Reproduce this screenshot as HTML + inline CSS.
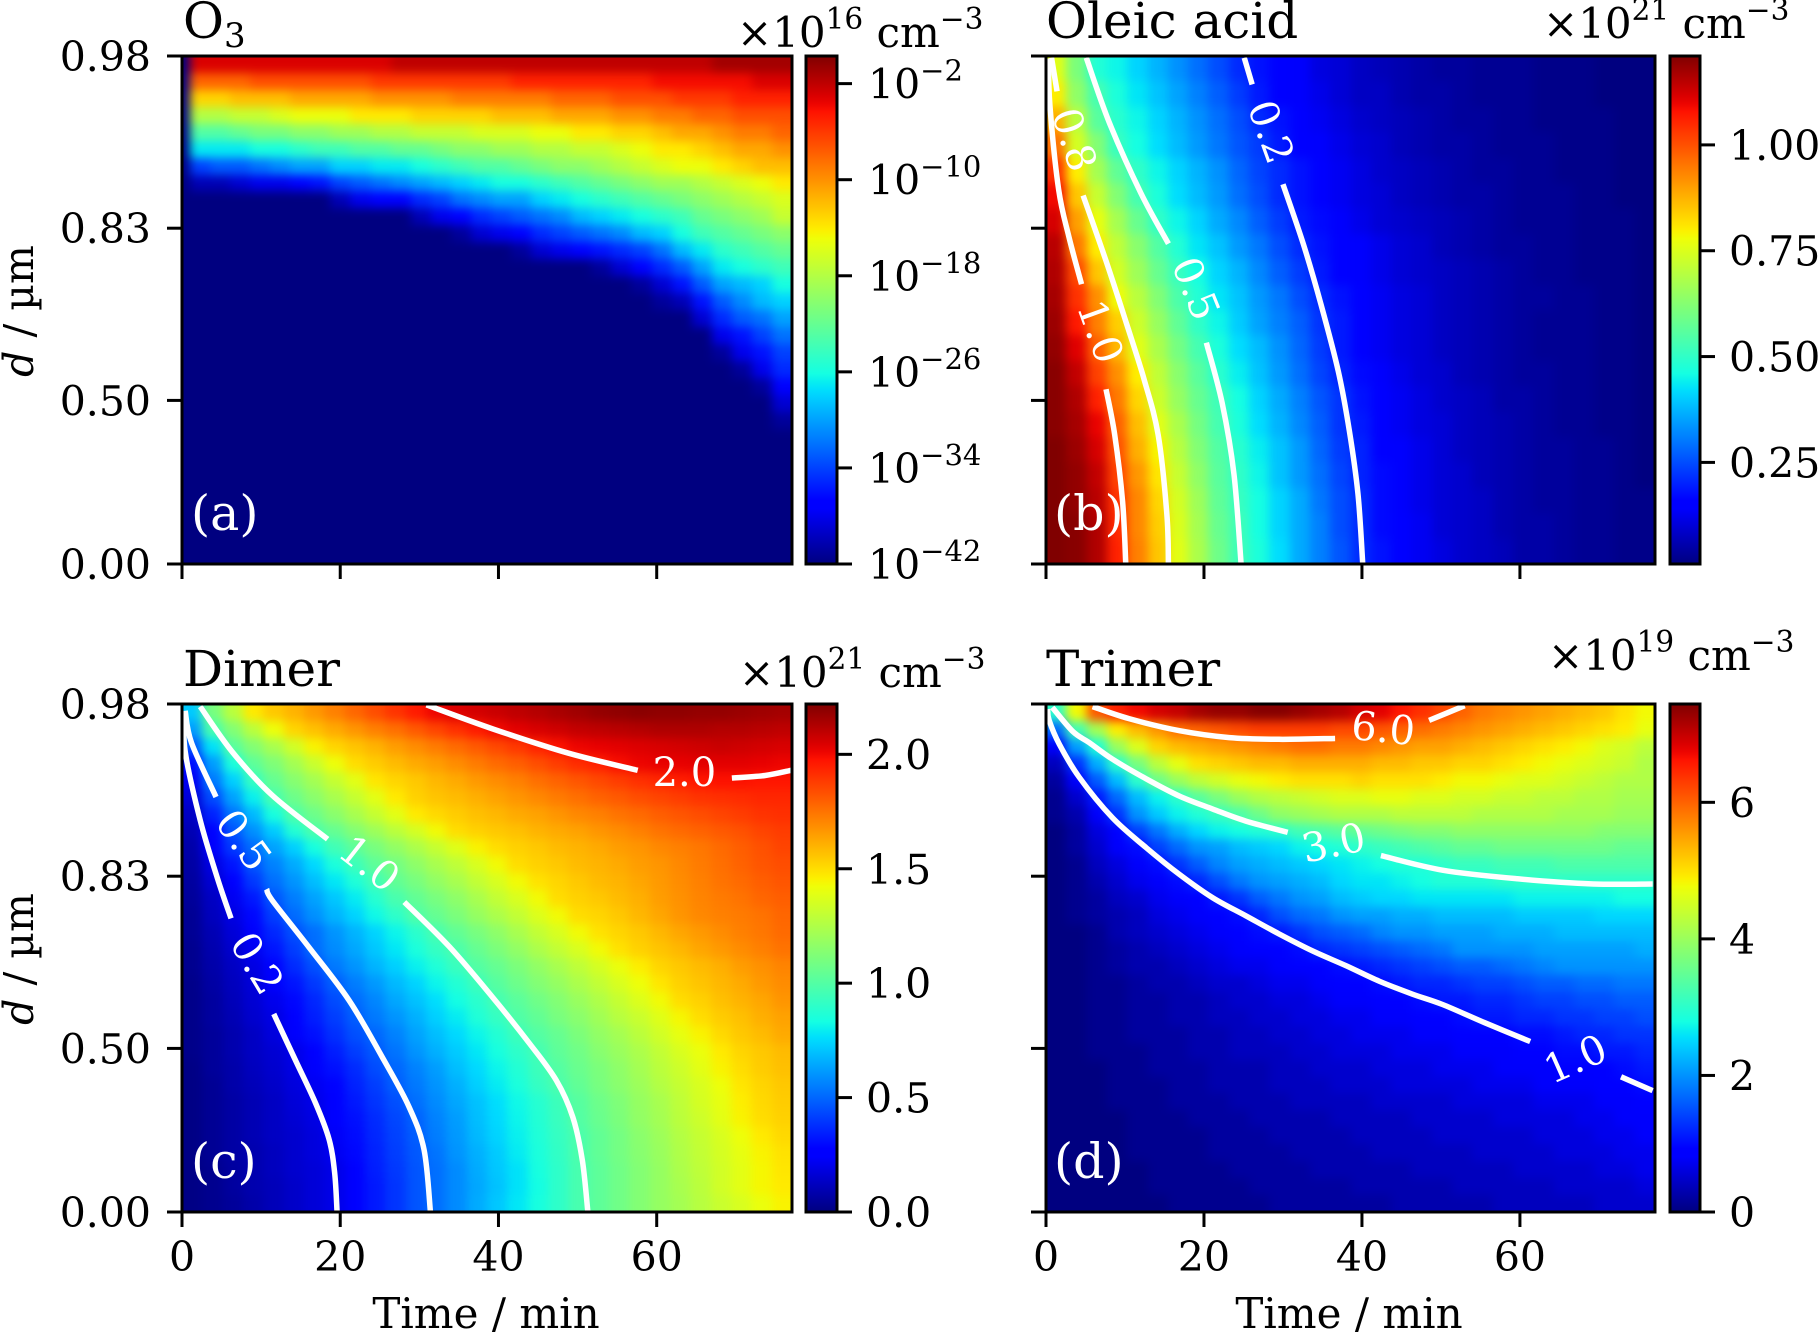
<!DOCTYPE html>
<html>
<head>
<meta charset="utf-8">
<title>Concentration heatmaps</title>
<style>
html,body{margin:0;padding:0;background:#fff;width:1818px;height:1333px;overflow:hidden}
svg{display:block}
text{font-family:"DejaVu Serif","Liberation Serif",serif;fill:#000}
</style>
</head>
<body>
<svg id="fig" xmlns="http://www.w3.org/2000/svg" width="1818" height="1333" viewBox="0 0 1818 1333">
  <defs>
    <linearGradient id="jet-gradient" x1="0" y1="1" x2="0" y2="0"></linearGradient>
    <filter id="heat-blur" filterUnits="userSpaceOnUse" x="0" y="0" width="1818" height="1333" color-interpolation-filters="sRGB"><feGaussianBlur stdDeviation="5"/></filter>
    <clipPath id="clip-a"><rect x="182" y="56" width="610" height="508"/></clipPath>
    <clipPath id="clip-b"><rect x="1046" y="56" width="609" height="508"/></clipPath>
    <clipPath id="clip-c"><rect x="182" y="704" width="610" height="508"/></clipPath>
    <clipPath id="clip-d"><rect x="1046" y="704" width="609" height="508"/></clipPath>
  </defs>
  <rect x="0" y="0" width="1818" height="1333" fill="#fff"/>
  <g id="marks"></g>

  <text x="183" y="38" font-size="50">O<tspan font-size="34" dy="9">3</tspan></text>
  <text x="1046" y="38" font-size="50">Oleic acid</text>
  <text x="183" y="686" font-size="50">Dimer</text>
  <text x="1046" y="686" font-size="50">Trimer</text>

  <text x="737" y="47" font-size="42">×10<tspan font-size="29.5" dy="-18">16</tspan><tspan dy="18"> cm</tspan><tspan font-size="29.5" dy="-18">−3</tspan></text>
  <text x="1543" y="38" font-size="42">×10<tspan font-size="29.5" dy="-18">21</tspan><tspan dy="18"> cm</tspan><tspan font-size="29.5" dy="-18">−3</tspan></text>
  <text x="739" y="687" font-size="42">×10<tspan font-size="29.5" dy="-18">21</tspan><tspan dy="18"> cm</tspan><tspan font-size="29.5" dy="-18">−3</tspan></text>
  <text x="1548" y="670" font-size="42">×10<tspan font-size="29.5" dy="-18">19</tspan><tspan dy="18"> cm</tspan><tspan font-size="29.5" dy="-18">−3</tspan></text>

  <text transform="translate(33,311) rotate(-90)" text-anchor="middle" font-size="41"><tspan font-style="italic">d</tspan> / µm</text>
  <text transform="translate(33,959) rotate(-90)" text-anchor="middle" font-size="41"><tspan font-style="italic">d</tspan> / µm</text>
  <text x="486" y="1328" text-anchor="middle" font-size="42">Time / min</text>
  <text x="1349" y="1328" text-anchor="middle" font-size="42">Time / min</text>

  <g id="letters"></g>
</svg>
<script>
// ---- axis data ----
const timeTicks = [0, 20, 40, 60];
const timeMax = 77.1;
const layerMax = 59;
const depthTickLayers = [0, 20, 40, 59];
const depthTickLabels = ['0.98', '0.83', '0.50', '0.00'];

// ---- O3: log10 exponent per cell, rows from the surface down; deeper rows sit at the floor ----
const o3Exponents = [
[-3,-3,-3,-3,-3,-3,-3,-3,-3,-3,-2,-2,-2,-2,-2,-2,-2,-2,-2,-2,-2,-2,-2,-2,-2,-2,-1,-1,-1,-1],
[-8,-8,-8,-7,-7,-7,-7,-7,-7,-6,-6,-6,-6,-6,-6,-6,-5,-5,-5,-5,-5,-5,-5,-4,-4,-4,-4,-4,-3,-3],
[-13,-13,-12,-12,-12,-11,-11,-11,-11,-10,-10,-10,-10,-9,-9,-9,-9,-9,-8,-8,-8,-7,-7,-7,-6,-6,-6,-5,-5,-5],
[-18,-18,-17,-17,-16,-15,-15,-15,-14,-14,-14,-13,-13,-13,-13,-12,-12,-12,-11,-11,-11,-10,-10,-9,-9,-8,-8,-7,-7,-7],
[-23,-23,-22,-21,-21,-20,-20,-19,-19,-18,-18,-17,-17,-17,-16,-16,-16,-15,-15,-14,-14,-13,-13,-12,-11,-11,-10,-9,-9,-8],
[-27,-27,-27,-26,-26,-25,-24,-24,-23,-23,-22,-22,-21,-20,-20,-19,-19,-18,-18,-17,-17,-16,-15,-14,-14,-13,-12,-11,-11,-10],
[-34,-33,-33,-32,-31,-30,-30,-28,-28,-27,-27,-26,-25,-24,-23,-23,-22,-21,-20,-20,-19,-18,-17,-16,-15,-15,-14,-13,-12,-12],
[-40,-40,-39,-38,-38,-37,-36,-34,-33,-32,-31,-30,-29,-28,-27,-26,-26,-25,-24,-23,-22,-21,-20,-19,-19,-18,-17,-16,-15,-14],
[-42,-42,-42,-42,-42,-42,-42,-40,-38,-37,-37,-35,-34,-32,-31,-30,-30,-28,-27,-26,-25,-24,-23,-22,-21,-20,-19,-18,-17,-16],
[-42,-42,-42,-42,-42,-42,-42,-42,-42,-42,-42,-40,-38,-37,-35,-34,-33,-32,-31,-29,-28,-27,-26,-25,-24,-22,-21,-20,-19,-17],
[-42,-42,-42,-42,-42,-42,-42,-42,-42,-42,-42,-42,-42,-41,-39,-38,-37,-35,-34,-33,-32,-31,-29,-28,-26,-24,-23,-22,-21,-20],
[-42,-42,-42,-42,-42,-42,-42,-42,-42,-42,-42,-42,-42,-42,-42,-42,-41,-39,-38,-37,-36,-35,-34,-32,-29,-27,-25,-24,-23,-22],
[-42,-42,-42,-42,-42,-42,-42,-42,-42,-42,-42,-42,-42,-42,-42,-42,-42,-42,-42,-42,-41,-39,-37,-35,-33,-30,-27,-26,-25,-24],
[-42,-42,-42,-42,-42,-42,-42,-42,-42,-42,-42,-42,-42,-42,-42,-42,-42,-42,-42,-42,-42,-42,-41,-39,-36,-33,-30,-29,-28,-26],
[-42,-42,-42,-42,-42,-42,-42,-42,-42,-42,-42,-42,-42,-42,-42,-42,-42,-42,-42,-42,-42,-42,-42,-41,-40,-36,-33,-31,-29,-28],
[-42,-42,-42,-42,-42,-42,-42,-42,-42,-42,-42,-42,-42,-42,-42,-42,-42,-42,-42,-42,-42,-42,-42,-42,-42,-39,-35,-33,-32,-30],
[-42,-42,-42,-42,-42,-42,-42,-42,-42,-42,-42,-42,-42,-42,-42,-42,-42,-42,-42,-42,-42,-42,-42,-42,-42,-42,-38,-36,-34,-32],
[-42,-42,-42,-42,-42,-42,-42,-42,-42,-42,-42,-42,-42,-42,-42,-42,-42,-42,-42,-42,-42,-42,-42,-42,-42,-42,-41,-38,-36,-34],
[-42,-42,-42,-42,-42,-42,-42,-42,-42,-42,-42,-42,-42,-42,-42,-42,-42,-42,-42,-42,-42,-42,-42,-42,-42,-42,-42,-41,-38,-35],
[-42,-42,-42,-42,-42,-42,-42,-42,-42,-42,-42,-42,-42,-42,-42,-42,-42,-42,-42,-42,-42,-42,-42,-42,-42,-42,-42,-42,-41,-37],
[-42,-42,-42,-42,-42,-42,-42,-42,-42,-42,-42,-42,-42,-42,-42,-42,-42,-42,-42,-42,-42,-42,-42,-42,-42,-42,-42,-42,-42,-39],
[-42,-42,-42,-42,-42,-42,-42,-42,-42,-42,-42,-42,-42,-42,-42,-42,-42,-42,-42,-42,-42,-42,-42,-42,-42,-42,-42,-42,-42,-41]
];

// ---- Oleic acid: units of 1e19 cm-3 ----
const oleicValues = [
[76,61,48,45,41,37,33,29,25,21,18,16,14,11,10,8,7,6,5,4,4,3,3,3,2,2,2,1,1,1],
[80,64,53,47,43,39,35,31,27,23,19,16,14,12,10,8,8,6,5,5,4,3,3,3,2,2,2,1,1,1],
[88,70,56,49,45,41,37,33,29,25,21,18,15,13,11,9,8,7,6,5,4,4,3,3,2,2,2,2,1,1],
[96,74,62,51,46,42,38,34,30,26,23,19,16,14,12,10,9,7,6,5,5,4,3,3,3,2,2,2,1,1],
[104,80,67,57,50,45,41,37,33,28,24,21,18,15,13,11,9,8,7,6,5,4,4,3,3,2,2,2,1,1],
[109,85,72,62,53,47,42,38,34,29,25,21,18,15,13,11,10,8,7,6,5,5,4,3,3,3,2,2,1,1],
[112,90,77,67,58,50,45,41,36,32,27,23,19,17,14,12,10,9,8,7,6,5,4,3,3,3,2,2,2,1],
[115,95,80,71,63,55,48,43,39,34,30,25,21,18,16,14,12,10,9,7,6,5,4,4,3,3,2,2,2,1],
[116,101,85,74,66,58,51,46,41,37,32,27,23,19,16,14,12,10,9,8,7,6,5,4,3,3,2,2,2,1],
[117,104,92,78,70,62,54,48,43,39,34,30,25,21,18,16,13,11,10,8,7,6,5,4,4,3,3,2,2,1],
[118,107,94,84,73,65,57,50,45,40,35,31,27,22,19,16,13,11,10,8,7,6,5,4,3,3,3,2,2,1],
[119,111,98,87,76,68,60,53,47,42,38,33,28,23,19,16,13,11,10,8,7,6,5,4,3,3,3,2,2,1],
[120,114,102,92,80,71,63,56,49,44,39,34,29,24,20,17,14,12,10,9,7,6,5,4,4,3,3,2,2,1],
[120,116,106,95,83,73,65,58,52,46,41,36,31,26,22,18,15,13,11,9,8,7,5,5,4,3,3,2,2,1],
[120,117,110,98,86,76,68,60,53,47,42,37,32,27,22,19,16,13,11,10,8,7,6,5,4,3,3,2,2,1],
[121,118,112,100,88,79,70,62,55,49,44,39,34,28,23,20,16,14,12,10,8,7,6,5,4,4,3,3,2,1],
[121,119,114,102,91,81,72,64,56,50,45,39,34,29,24,20,17,14,12,10,9,7,6,5,4,4,3,3,2,1],
[121,119,115,104,93,83,74,66,57,51,46,41,36,30,25,21,17,14,12,10,9,8,6,5,4,4,3,3,2,2],
[121,120,116,105,93,84,75,67,58,52,46,41,36,31,25,21,17,15,13,10,9,8,6,5,5,4,3,3,2,2],
[121,120,116,106,94,85,76,68,59,52,47,42,36,31,26,21,18,15,13,11,9,8,7,5,5,4,3,3,2,2]
];

// ---- Dimer: units of 1e19 cm-3 ----
const dimerValues = [
[72,110,128,147,155,160,166,172,178,184,190,196,201,204,206,208,210,212,214,216,218,219,220,219,219,218,218,217,216,215],
[62,97,113,128,142,152,157,162,167,172,176,181,186,191,196,200,203,205,207,209,210,211,212,213,213,213,212,212,211,210],
[46,77,102,113,123,134,145,152,156,160,165,169,173,177,181,185,189,194,198,201,202,203,204,205,206,207,208,207,206,205],
[30,62,85,103,112,122,132,142,150,154,158,162,165,169,173,177,180,184,188,192,195,199,201,202,202,203,203,203,202,201],
[22,54,73,92,105,114,122,131,139,148,152,155,159,162,166,169,172,176,179,182,185,188,191,193,195,197,198,198,197,197],
[17,44,63,80,97,107,115,123,131,139,147,153,156,158,161,164,167,170,173,176,179,181,184,186,188,190,191,192,193,193],
[13,35,53,68,84,99,107,115,123,131,139,147,151,154,157,159,162,164,167,170,172,175,177,180,182,184,186,188,190,191],
[10,28,46,59,72,87,98,105,113,120,128,135,143,150,153,155,157,160,162,164,167,169,172,175,177,179,181,183,186,188],
[8,24,40,51,63,73,84,95,103,110,117,124,131,138,145,150,153,155,158,160,162,165,167,170,172,174,177,180,183,186],
[7,19,32,46,56,65,75,85,94,103,109,116,123,129,136,143,150,153,155,158,160,162,165,167,170,173,176,179,182,184],
[6,16,27,40,52,60,69,78,86,95,104,110,117,123,130,136,143,149,152,155,158,160,163,166,169,172,175,177,180,182],
[5,13,22,33,46,55,63,71,79,88,97,104,110,116,123,130,136,143,150,153,155,158,161,165,168,171,173,175,178,180],
[4,12,19,29,41,51,59,67,74,82,90,99,105,111,118,124,130,137,143,150,152,155,159,163,167,170,172,173,175,178],
[4,10,17,24,36,45,52,60,67,74,81,89,97,104,110,116,123,130,136,143,149,152,155,159,163,166,169,172,174,177],
[3,9,15,22,32,41,51,58,64,71,78,85,92,98,105,111,117,124,130,136,143,149,153,156,159,163,166,169,172,175],
[3,8,13,19,28,37,45,54,60,67,73,80,86,93,100,105,111,117,123,129,135,141,146,152,155,158,161,165,168,171],
[2,7,12,17,24,32,40,48,55,61,68,74,81,87,94,101,107,113,118,124,130,136,142,148,153,156,159,162,166,169],
[2,6,11,16,21,29,36,44,51,57,64,70,76,83,89,96,102,108,113,119,125,131,137,143,150,153,157,160,163,167],
[2,6,10,15,19,27,34,41,48,54,60,66,73,79,86,92,99,104,110,115,121,127,132,138,144,150,154,157,161,164],
[2,5,9,13,18,24,31,38,45,50,56,63,69,75,81,87,94,100,105,111,117,122,128,134,140,145,151,155,158,162],
[2,5,9,13,16,20,27,34,41,47,53,60,66,72,78,84,90,96,103,108,114,119,124,130,136,141,147,152,155,158],
[1,5,8,12,15,19,24,31,37,44,50,56,62,69,75,81,87,94,100,106,111,116,122,128,133,139,145,150,154,157],
[1,4,8,11,14,18,22,28,35,41,48,54,60,66,73,79,85,92,98,104,110,115,120,126,131,136,142,148,152,155],
[1,4,7,10,13,17,20,26,33,39,45,52,58,64,70,76,82,88,94,101,107,112,118,123,129,135,140,146,151,154],
[1,4,7,10,13,16,19,25,31,37,43,49,56,62,69,75,81,87,93,100,106,111,117,122,128,133,139,145,150,153],
[1,4,7,10,13,15,18,23,30,36,42,48,55,61,68,74,80,86,92,98,104,109,115,120,126,131,136,142,147,151],
[1,4,7,9,12,15,18,22,29,35,41,47,53,60,66,72,79,85,91,98,104,109,114,119,125,130,135,140,145,149],
[1,3,6,9,12,15,17,20,26,34,40,46,52,58,65,71,77,84,90,97,103,108,113,118,124,129,134,139,144,148],
[1,3,6,9,11,14,17,20,26,33,39,46,52,58,64,70,77,83,90,97,103,108,113,118,123,128,134,139,144,147],
[1,3,5,8,11,14,17,20,26,33,39,46,52,58,65,71,78,84,90,97,103,108,113,118,122,127,132,136,141,145]
];

// ---- Trimer: units of 1e18 cm-3 ----
const trimerValues = [
[30,48,61,65,67,69,70,72,73,73,74,74,73,72,71,69,68,66,64,62,60,58,57,56,55,54,53,52,50,48],
[17,32,41,49,53,56,59,60,61,62,63,63,63,63,62,62,61,60,59,58,57,56,55,54,53,52,51,50,49,47],
[8,21,29,40,46,51,53,54,55,56,57,58,59,59,58,58,57,56,55,55,54,53,52,51,50,49,48,46,45,43],
[4,13,22,30,37,43,47,50,51,52,53,53,54,54,54,54,53,53,52,52,51,51,50,49,48,47,46,45,44,42],
[2,8,16,23,30,36,40,43,45,47,48,49,50,50,50,51,50,50,50,49,48,48,47,46,46,45,44,43,42,42],
[1,5,11,17,23,27,30,34,37,40,42,43,44,45,46,46,47,47,46,46,45,45,44,44,43,43,42,42,41,41],
[1,3,8,13,20,24,27,29,31,33,36,39,40,41,42,42,42,43,43,43,43,42,42,42,42,41,41,41,40,40],
[0,2,6,9,14,18,22,25,27,28,29,30,32,33,34,35,36,37,38,38,39,39,39,39,39,39,39,38,38,38],
[0,2,5,8,10,14,17,20,21,23,24,25,27,28,29,30,31,32,33,34,35,35,36,36,36,36,36,36,35,35],
[0,1,4,6,8,10,13,16,19,21,22,23,24,25,26,27,28,29,29,30,31,31,32,32,32,33,33,33,33,33],
[0,1,3,5,7,8,10,12,15,18,20,21,22,23,25,26,26,27,28,29,29,29,30,30,30,30,30,30,30,30],
[0,1,2,4,5,7,8,9,11,13,16,18,20,21,23,24,25,25,26,26,26,26,26,27,27,27,27,27,28,28],
[0,1,2,3,4,6,7,8,9,10,12,15,17,18,20,21,21,22,22,23,23,23,23,24,24,24,24,25,25,25],
[0,0,1,3,4,5,6,7,8,9,10,11,13,15,16,17,19,20,20,21,21,21,22,22,22,23,23,23,23,23],
[0,0,1,2,3,4,5,6,7,8,9,9,10,12,13,14,15,16,17,18,20,20,20,20,21,21,21,21,21,22],
[0,0,1,2,3,3,4,5,6,7,7,8,9,9,10,11,12,13,14,15,16,16,17,18,19,20,20,20,20,20],
[0,0,1,1,2,3,3,4,5,5,6,7,7,8,9,9,10,11,12,12,13,14,14,15,16,16,17,17,18,18],
[0,0,1,1,2,2,3,3,4,5,5,6,6,7,8,8,9,9,10,11,11,12,12,13,14,14,15,15,16,16],
[0,0,1,1,2,2,3,3,4,4,5,5,6,6,7,7,8,8,9,9,10,11,11,12,12,13,13,14,14,15],
[0,0,1,1,2,2,2,3,3,4,4,5,5,6,6,7,7,7,8,8,9,9,9,10,10,11,12,12,13,13],
[0,0,1,1,1,2,2,3,3,4,4,4,5,5,6,6,6,7,7,7,8,8,8,9,9,10,10,11,11,12],
[0,0,0,1,1,2,2,2,3,3,3,4,4,5,5,5,6,6,6,7,7,7,8,8,8,9,9,9,10,11],
[0,0,0,1,1,1,2,2,3,3,3,4,4,4,5,5,5,6,6,6,6,7,7,7,8,8,8,9,9,10],
[0,0,0,1,1,1,2,2,2,3,3,3,4,4,4,4,5,5,5,5,6,6,6,6,7,7,7,8,8,9],
[0,0,0,0,1,1,1,2,2,2,3,3,3,3,4,4,4,4,5,5,5,5,6,6,6,6,7,7,8,8],
[0,0,0,0,1,1,1,1,2,2,2,3,3,3,3,4,4,4,4,5,5,5,5,5,6,6,6,7,7,8],
[0,0,0,0,1,1,1,1,2,2,2,2,3,3,3,3,4,4,4,4,4,5,5,5,5,6,6,6,7,7],
[0,0,0,0,0,1,1,1,1,2,2,2,2,3,3,3,3,3,4,4,4,4,4,5,5,5,5,6,6,7],
[0,0,0,0,0,1,1,1,1,1,2,2,2,2,2,3,3,3,3,3,4,4,4,4,4,5,5,5,5,6],
[0,0,0,0,0,0,1,1,1,1,1,2,2,2,2,2,2,3,3,3,3,3,4,4,4,4,4,5,5,5]
];

// ---- Colorbar ticks and ranges ----
const o3Range = [-42, 0.3];
const o3BarTicks = [-2, -10, -18, -26, -34, -42];
const o3BarLabels = ['−2', '−10', '−18', '−26', '−34', '−42'];
const oleicRange = [1, 121];
const oleicBarTicks = [100, 75, 50, 25];
const oleicBarLabels = ['1.00', '0.75', '0.50', '0.25'];
const dimerRange = [0, 222];
const dimerBarTicks = [200, 150, 100, 50, 0];
const dimerBarLabels = ['2.0', '1.5', '1.0', '0.5', '0.0'];
const trimerRange = [0, 74.4];
const trimerBarTicks = [60, 40, 20, 0];
const trimerBarLabels = ['6', '4', '2', '0'];

// ---- Contours: [time, layer], each line segment ends at a label gap ----
const oleicLines = [
 [[25.1,0.2],[26.1,3.3]], [[30.0,14.9],[32.6,21.9],[34.8,28.8],[37.0,36.6],[38.4,43.5],[39.5,50.9],[40.1,59]],
 [[5.1,0.2],[8.0,7.7],[12.0,15.9],[15.5,21.8]], [[20.3,33.3],[22.3,40.3],[23.8,48.6],[24.7,59]],
 [[0.7,0.2],[1.4,4.1]], [[4.7,16.2],[7.6,23.8],[10.2,31.1],[12.4,37.5],[14.2,44],[15.3,53.2],[15.5,59]],
 [[0.3,0.3],[0.5,5.8],[1.6,15.5],[2.9,21],[4.5,26.5]], [[7.6,38.7],[8.7,44],[9.7,51.8],[10.1,59]]
];
const oleicLabels = ['0.2', '0.5', '0.8', '1.0'];
const oleicLabelPoints = [[28.5,8.8],[19,27],[3.6,9.7],[6.9,32]];
const oleicLabelAngles = [70, 68, 72, 70];

const dimerLines = [
 [[0.3,0.8],[0.4,5.5],[2.3,13.5],[4.5,20.3],[6.2,24.9]], [[11.6,36],[14.3,41.3],[16.9,46.4],[18.6,50.6],[19.3,54.5],[19.6,59]],
 [[0.4,0.8],[1.2,4.5],[4.3,10.8]], [[10.7,21.5],[11.4,22.8],[16,28.2],[21.1,34.4],[25.3,41],[28.7,46.8],[30.6,51.8],[31.4,59]],
 [[2.3,0.3],[6.3,5.5],[11.4,10.6],[18.4,15.7]], [[28.1,23],[33.8,28.2],[39.2,34],[43.9,39.4],[47.3,43.7],[49.4,48],[50.6,53],[51.3,59]],
 [[30.9,0.1],[39.3,2.9],[48.8,5.7],[57.6,7.7]], [[69.5,8.6],[73.7,8.3],[77,7.7]]
];
const dimerLabels = ['0.2', '0.5', '1.0', '2.0'];
const dimerLabelPoints = [[9.5,30.1],[7.8,15.8],[23.7,18.5],[63.5,7.9]];
const dimerLabelAngles = [59, 54, 38, 0];

const trimerLines = [
 [[0.2,0.6],[0.4,1.9],[1.7,4.7],[4.2,8.5],[8.4,13.2],[12.7,16.7],[16.9,19.8],[21.1,22.5],[25.3,24.6],[29.5,26.7],[33.8,28.7],[38,30.4],[42.2,32.2],[46.4,33.7],[50.2,34.9],[55.5,37],[61.3,39.2]], [[72.8,43.3],[76.8,44.9]],
 [[0.8,0.4],[3.4,3.2],[5.5,4.5],[8.4,6.4],[12.7,8.7],[16.9,10.7],[21.1,12.2],[25.3,13.6],[30.6,14.9]], [[42.4,17.6],[50.2,19.3],[59.7,20.3],[69.3,20.9],[76.8,20.9]],
 [[5.9,0.3],[10.5,1.7],[16.9,3.1],[23.2,3.9],[29.5,4.1],[36.6,4]], [[48.5,1.9],[53,0.2]]
];
const trimerLabels = ['1.0', '3.0', '6.0'];
const trimerLabelPoints = [[67,41.2],[36.4,16.1],[42.7,2.8]];
const trimerLabelAngles = [-24, -12, 6];

// ---- Jet colormap control points ----
const jetRed = [[0,0],[0.35,0],[0.66,1],[0.89,1],[1,0.5]];
const jetGreen = [[0,0],[0.125,0],[0.375,1],[0.64,1],[0.91,0],[1,0]];
const jetBlue = [[0,0.5],[0.11,1],[0.34,1],[0.65,0],[1,0]];

function channel(cp, v) {
  for (let i = 1; i < cp.length; i++) {
    if (v <= cp[i][0]) {
      const f = (v - cp[i-1][0]) / (cp[i][0] - cp[i-1][0]);
      return cp[i-1][1] + f * (cp[i][1] - cp[i-1][1]);
    }
  }
  return cp[cp.length-1][1];
}
function jet(v) {
  v = Math.max(0, Math.min(1, v));
  return 'rgb(' + Math.round(255*channel(jetRed, v)) + ',' + Math.round(255*channel(jetGreen, v)) + ',' + Math.round(255*channel(jetBlue, v)) + ')';
}

const NS = 'http://www.w3.org/2000/svg';
const marks = document.getElementById('marks');
function mk(tag, attrs, parent) {
  const el = document.createElementNS(NS, tag);
  for (const k in attrs) el.setAttribute(k, attrs[k]);
  (parent || marks).appendChild(el);
  return el;
}

// Gradient for the colorbars
const grad = document.getElementById('jet-gradient');
for (let i = 0; i <= 64; i++) {
  const s = document.createElementNS(NS, 'stop');
  s.setAttribute('offset', (i / 64));
  s.setAttribute('stop-color', jet(i / 64));
  grad.appendChild(s);
}

function smoothPath(pts) {
  let d = 'M' + pts[0][0] + ' ' + pts[0][1];
  for (let i = 0; i < pts.length - 1; i++) {
    const p0 = pts[Math.max(0, i-1)], p1 = pts[i], p2 = pts[i+1], p3 = pts[Math.min(pts.length-1, i+2)];
    d += ' C' + (p1[0] + (p2[0]-p0[0])/6) + ' ' + (p1[1] + (p2[1]-p0[1])/6) + ' ' +
         (p2[0] - (p3[0]-p1[0])/6) + ' ' + (p2[1] - (p3[1]-p1[1])/6) + ' ' + p2[0] + ' ' + p2[1];
  }
  return d;
}

const panels = [
 {id:'a', x0:182, x1:792, y0:56, y1:564, bx0:806, bx1:837, labelX:868, values:o3Exponents, rows:30, startT:1, range:o3Range, barTicks:o3BarTicks, barLabels:o3BarLabels, power:true, showY:true, showX:false, lines:[], labels:[], labelPts:[], angles:[]},
 {id:'b', x0:1046, x1:1655, y0:56, y1:564, bx0:1670, bx1:1700, labelX:1729, values:oleicValues, rows:20, startT:0, range:oleicRange, barTicks:oleicBarTicks, barLabels:oleicBarLabels, power:false, showY:false, showX:false, lines:oleicLines, labels:oleicLabels, labelPts:oleicLabelPoints, angles:oleicLabelAngles},
 {id:'c', x0:182, x1:792, y0:704, y1:1212, bx0:806, bx1:837, labelX:866, values:dimerValues, rows:30, startT:0, range:dimerRange, barTicks:dimerBarTicks, barLabels:dimerBarLabels, power:false, showY:true, showX:true, lines:dimerLines, labels:dimerLabels, labelPts:dimerLabelPoints, angles:dimerLabelAngles},
 {id:'d', x0:1046, x1:1655, y0:704, y1:1212, bx0:1670, bx1:1700, labelX:1729, values:trimerValues, rows:30, startT:0, range:trimerRange, barTicks:trimerBarTicks, barLabels:trimerBarLabels, power:false, showY:false, showX:true, lines:trimerLines, labels:trimerLabels, labelPts:trimerLabelPoints, angles:trimerLabelAngles}
];

panels.forEach(function (p) {
  const xScale = function (t) { return p.x0 + t * (p.x1 - p.x0) / timeMax; };
  const yScale = function (l) { return p.y0 + l * (p.y1 - p.y0) / layerMax; };
  const cScale = function (v) { return (v - p.range[0]) / (p.range[1] - p.range[0]); };
  const barY = function (v) { return p.y1 - cScale(v) * (p.y1 - p.y0); };
  const pad = 30;

  const clipG = mk('g', {'clip-path':'url(#clip-' + p.id + ')'});
  
  
  const cellG = mk('g', {'shape-rendering':'crispEdges', filter:'url(#heat-blur)'}, clipG);
  
  

  const bg = mk('rect', {x:p.x0-pad, y:p.y0-pad, width:p.x1-p.x0+2*pad, height:p.y1-p.y0+2*pad, fill:jet(0)}, cellG);
  
  

  const dl = layerMax / p.rows;
  p.values.forEach(function (row, r) {
    const dt = (timeMax - p.startT) / row.length;
    let ya = Math.round(yScale(r * dl));
    let yb = Math.round(yScale((r + 1) * dl));
    if (r === 0) ya -= pad;
    if (r === p.rows - 1) yb += pad;
    row.forEach(function (v, c) {
      let xa = Math.round(xScale(p.startT + c * dt));
      let xb = Math.round(xScale(p.startT + (c + 1) * dt));
      if (c === 0 && p.startT === 0) xa -= pad;
      if (c === row.length - 1) xb += pad;
      const cell = mk('rect', {x:xa, y:ya, width:xb-xa, height:yb-ya, fill:jet(cScale(v))}, cellG);
      
      
    });
  });

  const contourG = mk('g', {fill:'none', stroke:'#fff', 'stroke-width':5.5}, clipG);
  
  
  p.lines.forEach(function (seg) {
    const pts = seg.map(function (q) { return [xScale(q[0]), yScale(q[1])]; });
    const path = mk('path', {d:smoothPath(pts)}, contourG);
    
    
  });
  p.labels.forEach(function (txt, i) {
    const q = p.labelPts[i];
    const x = xScale(q[0]), y = yScale(q[1]);
    const t = mk('text', {x:x, y:y + 14, 'font-size':40, 'text-anchor':'middle', style:'fill:#fff', transform:'rotate(' + p.angles[i] + ' ' + x + ' ' + y + ')'}, clipG);
    t.textContent = txt;
    
    
  });

  const frame = mk('rect', {x:p.x0, y:p.y0, width:p.x1-p.x0, height:p.y1-p.y0, fill:'none', stroke:'#000', 'stroke-width':3});
  
  

  depthTickLayers.forEach(function (l, i) {
    const y = yScale(l);
    const tick = mk('line', {x1:p.x0-15, x2:p.x0, y1:y, y2:y, stroke:'#000', 'stroke-width':3});
    
    
    if (p.showY) {
      const lab = mk('text', {x:p.x0-31, y:y+15, 'font-size':41, 'text-anchor':'end'});
      lab.textContent = depthTickLabels[i];
      
      
    }
  });
  timeTicks.forEach(function (t) {
    const x = xScale(t);
    const tick = mk('line', {x1:x, x2:x, y1:p.y1, y2:p.y1+15, stroke:'#000', 'stroke-width':3});
    
    
    if (p.showX) {
      const lab = mk('text', {x:x, y:1271, 'font-size':41, 'text-anchor':'middle'});
      lab.textContent = t;
      
      
    }
  });

  const bar = mk('rect', {x:p.bx0, y:p.y0, width:p.bx1-p.bx0, height:p.y1-p.y0, fill:'url(#jet-gradient)', stroke:'#000', 'stroke-width':3});
  
  
  p.barTicks.forEach(function (v, i) {
    const y = barY(v);
    const tick = mk('line', {x1:p.bx1, x2:p.bx1+15, y1:y, y2:y, stroke:'#000', 'stroke-width':3});
    
    
    const lab = mk('text', {x:p.labelX, y:y+15, 'font-size':41});
    if (p.power) {
      lab.appendChild(document.createTextNode('10'));
      const sup = mk('tspan', {'font-size':29, dy:-18}, lab);
      sup.textContent = p.barLabels[i];
    } else {
      lab.textContent = p.barLabels[i];
    }
    
    
  });
});

// Panel letters sit above the heatmaps
const letters = document.getElementById('letters');
document.getElementById('fig').appendChild(letters);
const letterA = mk('text', {x:191, y:530, 'font-size':49, style:'fill:#fff'}, letters);
letterA.textContent = '(a)';


const letterB = mk('text', {x:1054, y:530, 'font-size':49, style:'fill:#fff'}, letters);
letterB.textContent = '(b)';


const letterC = mk('text', {x:191, y:1178, 'font-size':49, style:'fill:#fff'}, letters);
letterC.textContent = '(c)';


const letterD = mk('text', {x:1054, y:1178, 'font-size':49, style:'fill:#fff'}, letters);
letterD.textContent = '(d)';


</script>
</body>
</html>
